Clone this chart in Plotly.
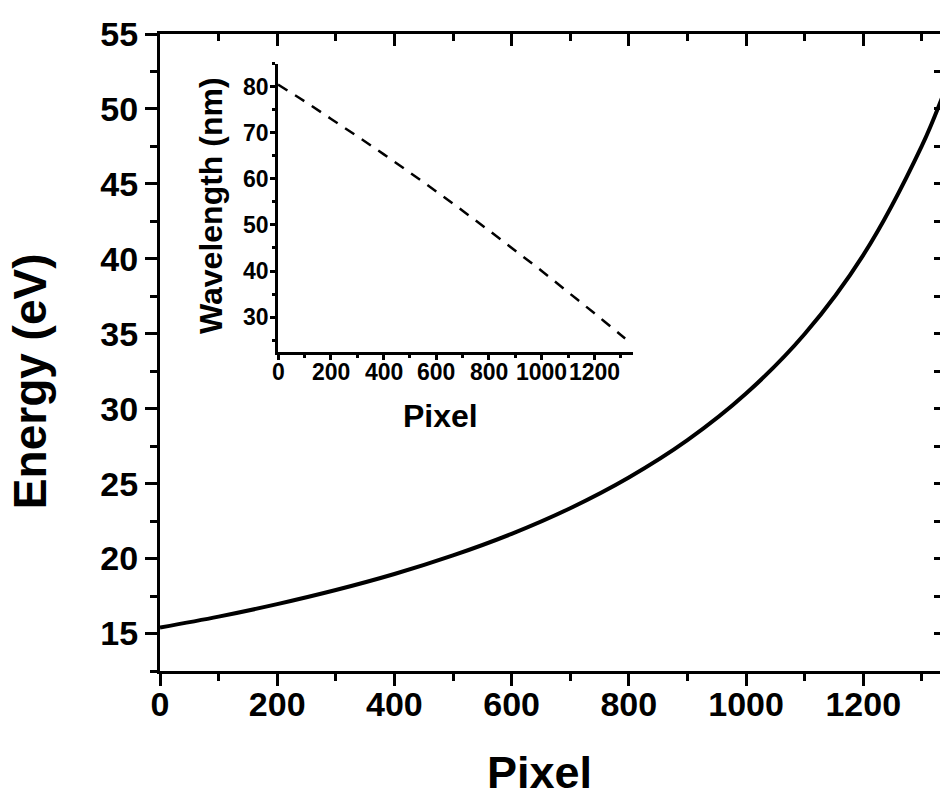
import plotly.graph_objects as go

# Detector pixel positions and the calibrated photon energy / wavelength at each
pixel = [0, 100, 200, 300, 400, 500, 600, 700, 800, 900, 1000, 1100, 1200, 1300, 1340]
energy_ev = [15.40, 16.13, 16.96, 17.90, 18.97, 20.21, 21.65, 23.36, 25.41,
             27.90, 31.01, 34.98, 40.25, 47.54, 51.32]
wavelength_nm = [80.5, 76.9, 73.1, 69.3, 65.4, 61.4, 57.3, 53.1, 48.8,
                 44.4, 40.0, 35.4, 30.8, 26.1, 24.2]

# Tick values of the inset axes
inset_x_ticks = [0, 200, 400, 600, 800, 1000, 1200]
inset_y_ticks = [30, 40, 50, 60, 70, 80]

FONT = "Liberation Sans, Arial, sans-serif"
BLACK = "#000000"
CLEAR = "rgba(0,0,0,0)"

fig = go.Figure()

# Main curve: energy vs pixel
fig.add_trace(go.Scatter(
    x=pixel, y=energy_ev, mode="lines", line=dict(color=BLACK, width=4, shape="spline"),
    xaxis="x", yaxis="y", showlegend=False, hoverinfo="skip"))

# Invisible copies that carry the mirrored tick axes and the bottom label axis
for xa, ya in (("x2", "y2"), ("x4", "y")):
    fig.add_trace(go.Scatter(
        x=pixel, y=energy_ev, mode="lines", opacity=0, line=dict(width=0),
        xaxis=xa, yaxis=ya, showlegend=False, hoverinfo="skip"))

# Inset: wavelength vs pixel
fig.add_trace(go.Scatter(
    x=pixel, y=wavelength_nm, mode="lines",
    line=dict(color=BLACK, width=2.5, dash="11px,9px", shape="spline"),
    xaxis="x3", yaxis="y3", showlegend=False, hoverinfo="skip"))

main_tick_font = dict(family=FONT, size=34, color=BLACK, weight="bold")
inset_tick_font = dict(family=FONT, size=23, color=BLACK, weight="bold")

X_RANGE = [0, 1331]
Y_RANGE = [12.5, 55]
INSET_X = [0, 1346]
INSET_Y = [22.4, 85]
INSET_XDOM = [0.1513, 0.6064]
INSET_YDOM = [0.5008, 0.953]

annotations = [
    dict(text="Pixel", xref="paper", yref="paper", x=0.487, y=-0.160,
         xanchor="center", yanchor="middle", showarrow=False,
         font=dict(family=FONT, size=45, color=BLACK, weight="bold")),
    dict(text="Energy (eV)", xref="paper", yref="paper", x=-0.1667, y=0.455,
         xanchor="center", yanchor="middle", showarrow=False, textangle=-90,
         font=dict(family=FONT, size=46, color=BLACK, weight="bold")),
    dict(text="Pixel", xref="paper", yref="paper", x=0.360, y=0.400,
         xanchor="center", yanchor="middle", showarrow=False,
         font=dict(family=FONT, size=32, color=BLACK, weight="bold")),
    dict(text="Wavelength (nm)", xref="paper", yref="paper", x=0.0654, y=0.730,
         xanchor="center", yanchor="middle", showarrow=False, textangle=-90,
         font=dict(family=FONT, size=32, color=BLACK, weight="bold")),
]
# Inset tick labels, set close to the inset frame
for v in inset_x_ticks:
    annotations.append(dict(text=str(v), xref="x3", yref="paper", x=v, y=INSET_YDOM[0] - 0.0095,
                            xanchor="center", yanchor="top", showarrow=False,
                            borderpad=0, font=inset_tick_font))
for v in inset_y_ticks:
    annotations.append(dict(text=str(v), xref="paper", yref="y3", x=INSET_XDOM[0] - 0.0105, y=v,
                            xanchor="right", yanchor="middle", showarrow=False,
                            borderpad=0, font=inset_tick_font))

fig.update_layout(
    width=940, height=798,
    margin=dict(l=160, r=0, t=34, b=127),
    paper_bgcolor="white", plot_bgcolor="white",
    xaxis=dict(
        range=X_RANGE, domain=[0, 1], anchor="y",
        tickmode="linear", tick0=0, dtick=200,
        ticks="outside", ticklen=12, tickwidth=3, tickcolor=BLACK,
        minor=dict(dtick=100, tick0=0, ticks="outside", ticklen=7, tickwidth=3, tickcolor=BLACK),
        showline=True, linewidth=3, linecolor=BLACK,
        showgrid=False, zeroline=False, showticklabels=False,
    ),
    xaxis4=dict(
        range=X_RANGE, overlaying="x", side="bottom", anchor="y",
        tickmode="linear", tick0=0, dtick=200,
        ticks="outside", ticklen=3, tickcolor=CLEAR,
        showline=False, showgrid=False, zeroline=False, tickfont=main_tick_font,
    ),
    yaxis=dict(
        range=Y_RANGE, domain=[0, 1], anchor="x",
        tickmode="linear", tick0=15, dtick=5,
        ticks="outside", ticklen=12, tickwidth=3, tickcolor=BLACK,
        minor=dict(dtick=2.5, tick0=0, ticks="outside", ticklen=7, tickwidth=3, tickcolor=BLACK),
        showline=True, linewidth=3, linecolor=BLACK,
        showgrid=False, zeroline=False, tickfont=main_tick_font,
    ),
    xaxis2=dict(
        range=X_RANGE, overlaying="x", side="top", anchor="y2",
        tickmode="linear", tick0=0, dtick=200,
        ticks="inside", ticklen=12, tickwidth=3, tickcolor=BLACK,
        minor=dict(dtick=100, tick0=0, ticks="inside", ticklen=7, tickwidth=3, tickcolor=BLACK),
        showline=True, linewidth=3, linecolor=BLACK,
        showticklabels=False, showgrid=False, zeroline=False,
    ),
    yaxis2=dict(
        range=Y_RANGE, overlaying="y", side="right", anchor="x2",
        tickmode="linear", tick0=15, dtick=5,
        ticks="inside", ticklen=6, tickwidth=3, tickcolor=BLACK,
        minor=dict(dtick=2.5, tick0=0, ticks="inside", ticklen=6, tickwidth=3, tickcolor=BLACK),
        showline=False, showticklabels=False, showgrid=False, zeroline=False,
    ),
    xaxis3=dict(
        range=INSET_X, domain=INSET_XDOM, anchor="y3",
        tickmode="linear", tick0=0, dtick=200,
        ticks="outside", ticklen=5, tickwidth=2.5, tickcolor=BLACK,
        minor=dict(dtick=100, tick0=0, ticks="outside", ticklen=3, tickwidth=2.5, tickcolor=BLACK),
        showline=True, linewidth=2.5, linecolor=BLACK,
        showgrid=False, zeroline=False, showticklabels=False,
    ),
    yaxis3=dict(
        range=INSET_Y, domain=INSET_YDOM, anchor="x3",
        tickmode="linear", tick0=30, dtick=10,
        ticks="outside", ticklen=5, tickwidth=2.5, tickcolor=BLACK,
        minor=dict(dtick=5, tick0=0, ticks="outside", ticklen=3, tickwidth=2.5, tickcolor=BLACK),
        showline=True, linewidth=2.5, linecolor=BLACK,
        showgrid=False, zeroline=False, showticklabels=False,
    ),
    annotations=annotations,
)

fig.write_html("out.html")
